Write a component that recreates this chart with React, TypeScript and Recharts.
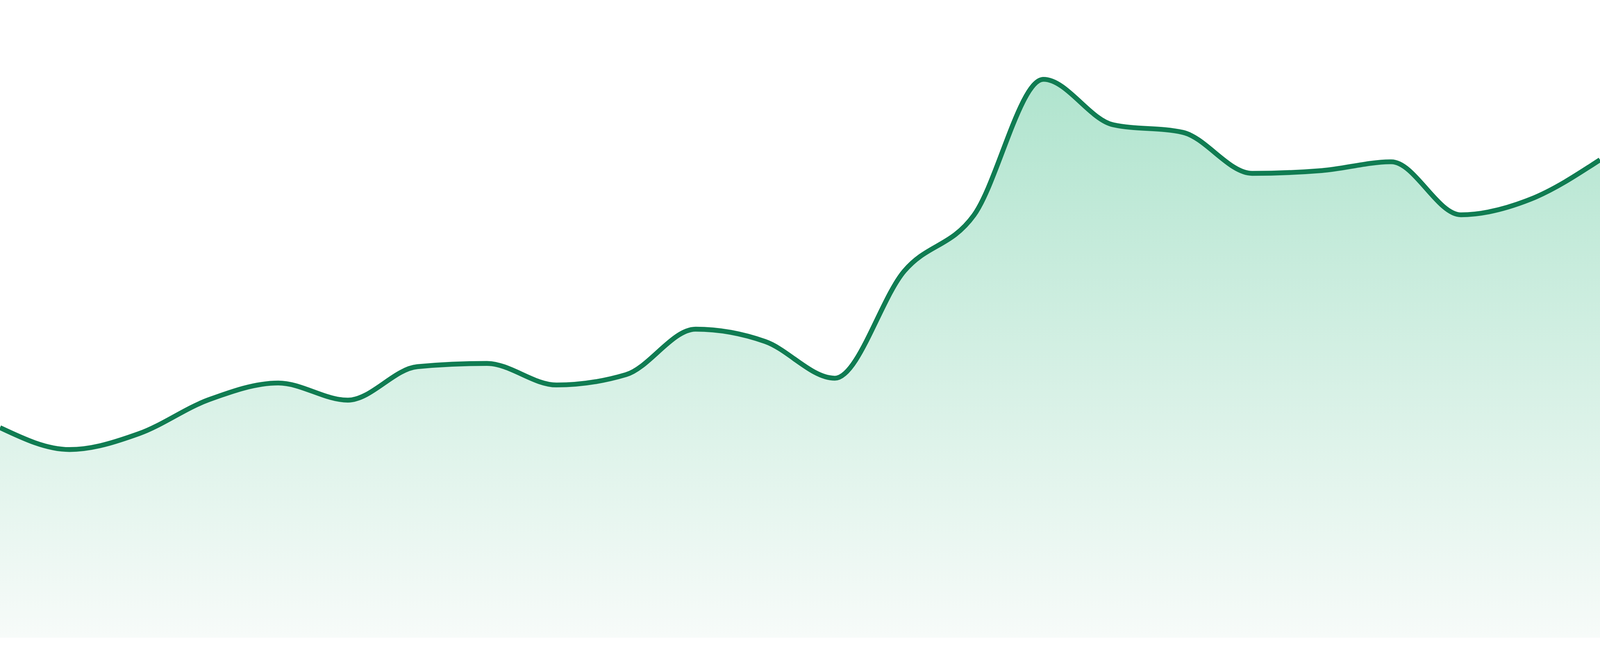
import React from "react";
import { AreaChart, Area, XAxis, YAxis, ResponsiveContainer } from "recharts";

const days = [
  "D1", "D2", "D3", "D4", "D5", "D6", "D7", "D8", "D9", "D10", "D11", "D12",
  "D13", "D14", "D15", "D16", "D17", "D18", "D19", "D20", "D21", "D22", "D23", "D24",
];

const prices = [
  52.7, 47.2, 51.2, 59.7, 63.9, 59.6, 68.0, 68.8, 63.4, 66.0, 77.4, 74.3,
  65.1, 92.0, 106.0, 140.1, 128.7, 126.8, 116.5, 117.2, 119.4, 106.1, 110.0, 119.9,
];

const data = days.map((day, i) => ({ day, price: prices[i] }));

export default function App() {
  // the chart fills the whole window edge to edge
  const w = typeof window !== "undefined" ? window.innerWidth : 4800;
  const h = typeof window !== "undefined" ? window.innerHeight : 1680;
  const unit = w / 4800;

  return (
    <div style={{ position: "fixed", left: 0, top: 0, width: "100vw", height: "100vh", background: "#ffffff" }}>
      <ResponsiveContainer width="100%" height="100%">
        <AreaChart data={data} margin={{ top: 0, right: 0, bottom: Math.round(h * 0.028), left: 0 }}>
          <defs>
            <linearGradient id="priceFill" x1="0" y1="0" x2="0" y2="1">
              <stop offset="0%" stopColor="#b0e4ce" />
              <stop offset="100%" stopColor="#f7fbf9" />
            </linearGradient>
          </defs>
          <XAxis dataKey="day" hide />
          <YAxis hide domain={[0, 160]} />
          <Area
            type="monotone"
            dataKey="price"
            stroke="#107c52"
            strokeWidth={14.5 * unit}
            fill="url(#priceFill)"
            fillOpacity={1}
            dot={false}
            activeDot={false}
            isAnimationActive={false}
          />
        </AreaChart>
      </ResponsiveContainer>
    </div>
  );
}
